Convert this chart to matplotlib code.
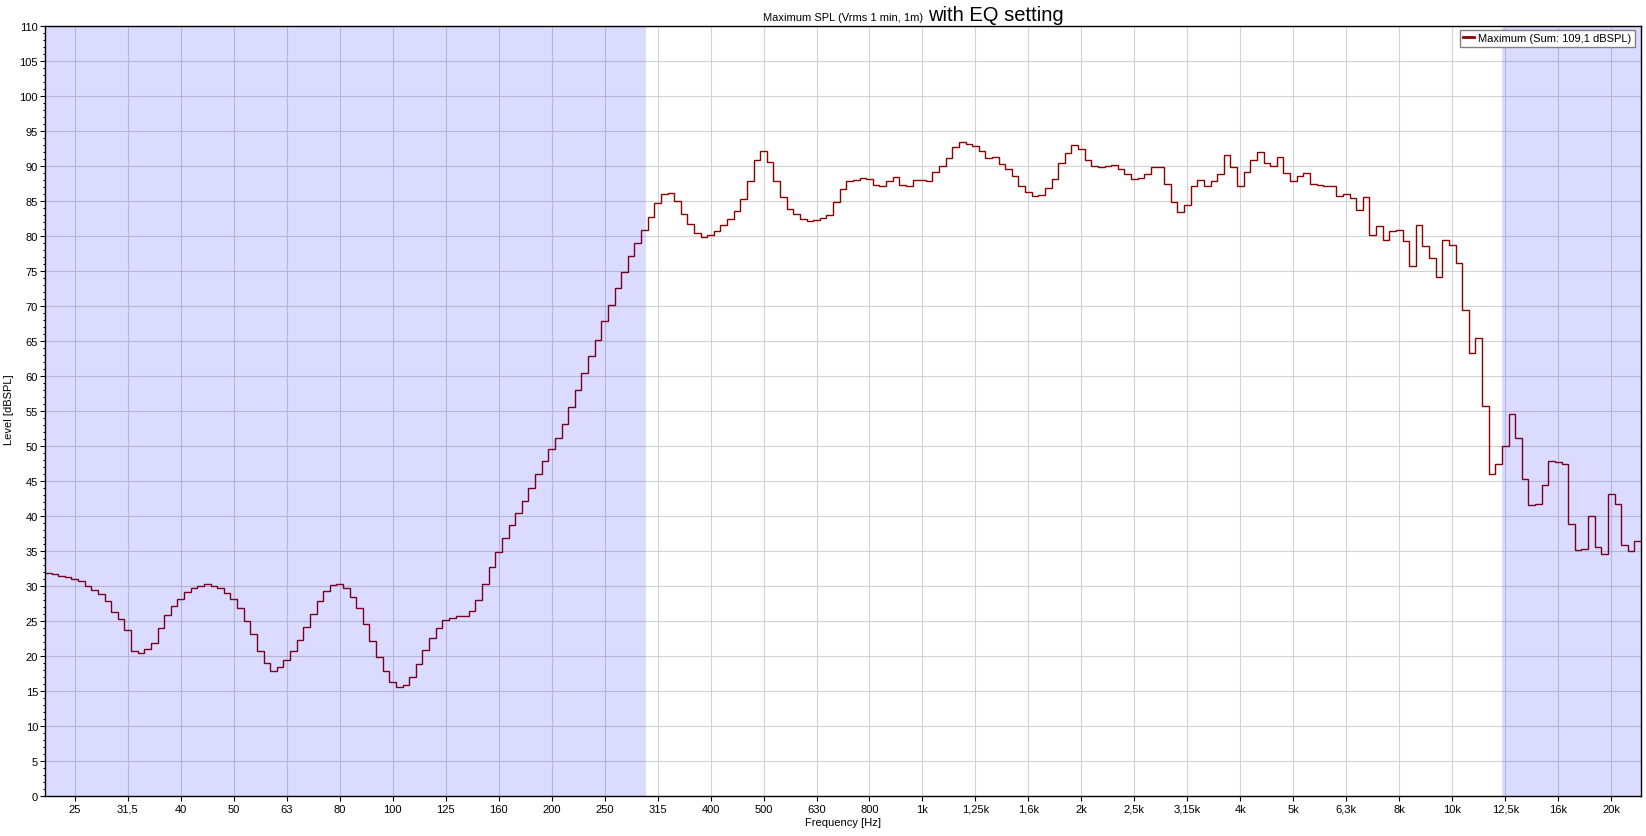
import numpy as np
import matplotlib
matplotlib.use("Agg")
import matplotlib.pyplot as plt
from matplotlib.ticker import FixedLocator, MultipleLocator, NullLocator
from matplotlib.lines import Line2D

plt.rcParams['font.family'] = ['Liberation Sans', 'DejaVu Sans']

# ---- data -------------------------------------------------------------
# 1/24-octave bands, index relative to 1 kHz (band centre = 1000*2^(k/24))
band_first_index = -132
levels = [
    31.85, 31.66, 31.5, 31.28, 31.04, 30.7, 30.05, 29.5, 28.8, 27.8, 26.3, 25.3,
    23.65, 20.76, 20.4, 21.0, 21.85, 24.0, 25.8, 27.15, 28.2, 29.2, 29.7, 30.05,
    30.24, 30.05, 29.7, 29.05, 28.1, 26.8, 25.0, 23.2, 20.7, 19.0, 17.8, 18.4,
    19.4, 20.75, 22.3, 24.1, 26.0, 27.8, 29.25, 30.1, 30.3, 29.7, 28.5, 26.8,
    24.6, 22.2, 19.9, 17.8, 16.3, 15.55, 15.8, 17.0, 18.8, 20.8, 22.6, 24.05,
    25.1, 25.5, 25.65, 25.75, 26.4, 28.0, 30.25, 32.65, 34.9, 36.9, 38.7, 40.45,
    42.1, 44.0, 46.0, 47.8, 49.55, 51.15, 53.2, 55.6, 58.05, 60.4, 62.8, 65.2,
    67.8, 70.2, 72.6, 74.9, 77.1, 79.0, 80.8, 82.7, 84.7, 86.0, 86.2, 85.0,
    83.2, 81.7, 80.4, 79.9, 80.2, 80.65, 81.6, 82.5, 83.6, 85.35, 87.85, 90.85,
    92.1, 90.6, 87.9, 85.55, 83.9, 83.15, 82.45, 82.1, 82.3, 82.6, 83.05, 84.8,
    86.7, 87.8, 88.05, 88.25, 88.1, 87.35, 87.2, 87.9, 88.4, 87.25, 87.15, 88.0,
    88.0, 87.85, 89.1, 89.95, 91.2, 92.7, 93.45, 93.2, 92.9, 92.2, 91.1, 91.25,
    90.25, 89.6, 88.55, 87.1, 86.35, 85.65, 85.9, 86.8, 88.15, 90.4, 91.8, 92.95,
    92.5, 90.85, 89.95, 89.9, 90.05, 90.15, 89.6, 88.8, 88.2, 88.35, 88.9, 89.8,
    89.9, 87.45, 84.8, 83.4, 84.45, 87.1, 87.95, 87.1, 87.8, 88.8, 91.6, 89.85,
    87.1, 89.15, 90.85, 91.95, 90.4, 89.95, 91.35, 88.95, 87.9, 88.55, 89.0, 87.45,
    87.25, 87.1, 87.1, 85.75, 86.0, 85.4, 83.7, 85.6, 80.15, 81.5, 79.4, 80.7,
    80.85, 79.35, 75.65, 81.6, 78.6, 76.8, 74.2, 79.4, 78.7, 76.2, 69.5, 63.3,
    65.45, 55.7, 46.0, 47.45, 50.0, 54.6, 51.1, 45.3, 41.6, 41.7, 44.4, 47.9,
    47.7, 47.4, 38.85, 35.2, 35.3, 40.05, 35.6, 34.55, 43.2, 41.65, 35.9, 35.05,
    36.5,
]

# third-octave tick index relative to 1 kHz and their nominal labels
tick_index = list(range(-16, 14))
tick_labels = ["25", "31,5", "40", "50", "63", "80", "100", "125", "160", "200",
               "250", "315", "400", "500", "630", "800", "1k", "1,25k", "1,6k", "2k",
               "2,5k", "3,15k", "4k", "5k", "6,3k", "8k", "10k", "12,5k", "16k", "20k"]

shade_low_end = 300.0      # Hz
shade_high_start = 12500.0  # Hz

title_small = "Maximum SPL (Vrms 1 min, 1m)"
title_big = "with EQ setting"
legend_label = "Maximum (Sum: 109,1 dBSPL)"
x_label = "Frequency [Hz]"
y_label = "Level [dBSPL]"

# ---- figure -----------------------------------------------------------
W, H = 1646, 837
fig = plt.figure(figsize=(W / 100, H / 100), dpi=100)
left, right, top, bottom = 45, 1641, 27, 797
ax = fig.add_axes([left / W, 1 - bottom / H, (right - left) / W, (bottom - top) / H])

k = np.arange(band_first_index, band_first_index + len(levels) + 1)
edges = 1000.0 * 2.0 ** ((k - 0.5) / 24.0)

ax.set_xscale('log')
ax.set_xlim(edges[0], edges[-1])
ax.set_ylim(0, 110)

line_color = '#8B0000'
ax.stairs(levels, edges, baseline=None, color=line_color, lw=1.0, zorder=1.5)

shade_kw = dict(color=(0.0, 0.0, 1.0), alpha=0.14, lw=0, zorder=2)
ax.axvspan(edges[0], shade_low_end, **shade_kw)
ax.axvspan(shade_high_start, edges[-1], **shade_kw)

ticks = [1000.0 * 2.0 ** (n / 3.0) for n in tick_index]
ax.xaxis.set_major_locator(FixedLocator(ticks))
ax.xaxis.set_minor_locator(NullLocator())
ax.set_xticklabels(tick_labels)
ax.yaxis.set_major_locator(MultipleLocator(5))
ax.yaxis.set_minor_locator(MultipleLocator(1))

ax.set_axisbelow(True)
ax.grid(True, which='major', color='#D3D3D3', lw=0.8)

ax.tick_params(axis='x', which='major', length=3.5, width=0.8, labelsize=8, pad=2)
ax.tick_params(axis='y', which='major', length=3.5, width=0.8, labelsize=8, pad=1.5)
ax.tick_params(axis='y', which='minor', length=1.8, width=0.8)
for s in ax.spines.values():
    s.set_color('black')
    s.set_linewidth(1.0)

# titles & labels
t1 = fig.text(((left + right) / 2) / W, 1 - 21 / H, title_small, ha='center',
              va='baseline', fontsize=8)
fig.canvas.draw()
bb = t1.get_window_extent()
fig.text((bb.x1 + 5) / W, 1 - 21 / H, title_big, ha='left', va='baseline', fontsize=14.5)

fig.text(((left + right) / 2) / W, 1 - 823 / H, x_label, ha='center', va='center', fontsize=8)
fig.text(9 / W, 1 - 410 / H, y_label, ha='center', va='center', rotation=90, fontsize=8)

handle = Line2D([], [], color=line_color, lw=2)
leg = ax.legend([handle], [legend_label], loc='upper right',
                bbox_to_anchor=(1635 / W, 1 - 31 / H), bbox_transform=fig.transFigure,
                borderaxespad=0, fontsize=8, handlelength=1.0, handletextpad=0.4,
                borderpad=0.3, fancybox=False, framealpha=1, edgecolor='#808080')
leg.get_frame().set_linewidth(1.0)
leg.set_zorder(5)

fig.savefig('out.png', dpi=100)
